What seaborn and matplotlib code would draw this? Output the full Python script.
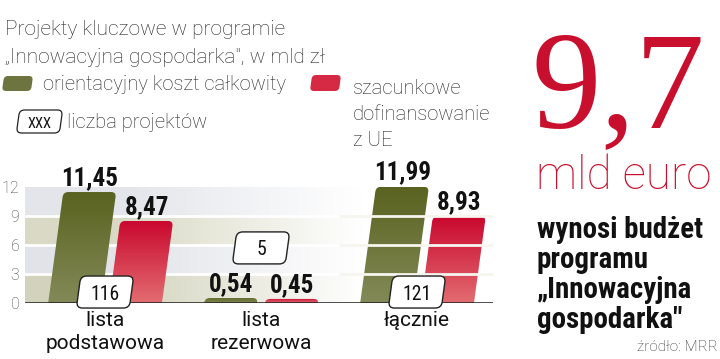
import numpy as np
import pandas as pd
import matplotlib
matplotlib.use("Agg")
import matplotlib.pyplot as plt
import seaborn as sns
from matplotlib.path import Path
from matplotlib.patches import PathPatch
from matplotlib import font_manager as fm
from matplotlib.transforms import Affine2D

# ---------------- data ----------------
categories = ["lista\npodstawowa", "lista\nrezerwowa", "łącznie"]
koszt_calkowity = [11.45, 0.54, 11.99]
dofinansowanie_ue = [8.47, 0.45, 8.93]
liczba_projektow = [116, 5, 121]
series_names = ["orientacyjny koszt całkowity", "szacunkowe dofinansowanie z UE"]
y_ticks = [0, 3, 6, 9, 12]
title_lines = ["Projekty kluczowe w programie", "„Innowacyjna gospodarka\", w mld zł"]
headline_value = "9,7"
headline_unit = "mld euro"
headline_text = "wynosi budżet\nprogramu\n„Innowacyjna\ngospodarka\""
source_text = "źródło: MRR"

# ---------------- styles ----------------
GREEN_TOP, GREEN_BOT = "#59621f", "#838a58"
RED_TOP, RED_BOT = "#c9072e", "#e26d71"
HEAD_RED = "#c8102e"
BANDS = ["#d3d3bd", "#e2e3e8", "#d9d9c5", "#e3e5ea"]  # bottom -> top

sns.set_theme(style="white")

_fonts = fm.fontManager.ttflist
_names = {f.name for f in _fonts}


def has(name, weight=None):
    for f in _fonts:
        if f.name != name:
            continue
        w = f.weight
        if isinstance(w, str):
            w = {"light": 300, "normal": 400, "regular": 400, "bold": 700}.get(w, 400)
        if weight is not None and abs(w - weight) > 50:
            continue
        return True
    return False


if has("Roboto", 300):
    LIGHT = dict(family="Roboto", weight="light")
elif has("Lato", 300):
    LIGHT = dict(family="Lato", weight="light")
elif has("Open Sans", 300):
    LIGHT = dict(family="Open Sans", weight="light")
else:
    LIGHT = dict(family="Roboto" if "Roboto" in _names else "DejaVu Sans")
REGULAR = dict(family="Roboto" if "Roboto" in _names else "DejaVu Sans")

if "Liberation Sans Narrow" in _names:
    NARROW = dict(family="Liberation Sans Narrow")
    NARROW_B = dict(family="Liberation Sans Narrow", weight="bold")
    NARROW_SCALE = 1.0
elif "Roboto Condensed" in _names:
    NARROW = dict(family="Roboto Condensed")
    NARROW_B = dict(family="Roboto Condensed", weight="bold")
    NARROW_SCALE = 0.95
else:
    NARROW = dict(family="DejaVu Sans", stretch="condensed")
    NARROW_B = dict(family="DejaVu Sans", stretch="condensed", weight="bold")
    NARROW_SCALE = 0.82
SERIF = dict(family="Liberation Serif" if "Liberation Serif" in _names else "DejaVu Serif")

W, H = 720, 359
fig = plt.figure(figsize=(W / 100, H / 100), dpi=100)
fig.patch.set_facecolor("white")

AX_L, AX_R, AX_B, AX_T = 25, 493, 303.3, 186.7
ax = fig.add_axes([AX_L / W, 1 - AX_B / H, (AX_R - AX_L) / W, (AX_B - AX_T) / H])
XL = (-0.513, 2.487)
YL = (0, 12)

df = pd.DataFrame({
    "kategoria": categories * 2,
    "seria": [series_names[0]] * 3 + [series_names[1]] * 3,
    "wartosc": koszt_calkowity + dofinansowanie_ue,
})
sns.barplot(data=df, x="kategoria", y="wartosc", hue="seria", order=categories,
            hue_order=series_names, palette=[GREEN_TOP, RED_TOP], width=0.78, gap=0.13,
            errorbar=None, legend=False, ax=ax, zorder=2)

ax.set_xlim(XL)
ax.set_ylim(YL)
xu = (AX_R - AX_L) / (XL[1] - XL[0])   # px per x unit
yu = (AX_B - AX_T) / (YL[1] - YL[0])   # px per y unit
SLANT_PX = 0.136
s = SLANT_PX * yu / xu                  # x-units per y-unit


def rpath(x0, y0, x1, y1, rx, ry, round_bottom=True, skew=0.0, yref=0.0):
    verts, codes = [], []
    if round_bottom:
        verts.append((x0, y0 + ry)); codes.append(Path.MOVETO)
    else:
        verts.append((x0, y0)); codes.append(Path.MOVETO)
    verts += [(x0, y1 - ry), (x0, y1), (x0 + rx, y1), (x1 - rx, y1), (x1, y1), (x1, y1 - ry)]
    codes += [Path.LINETO, Path.CURVE3, Path.CURVE3, Path.LINETO, Path.CURVE3, Path.CURVE3]
    if round_bottom:
        verts += [(x1, y0 + ry), (x1, y0), (x1 - rx, y0), (x0 + rx, y0), (x0, y0), (x0, y0 + ry)]
        codes += [Path.LINETO, Path.CURVE3, Path.CURVE3, Path.LINETO, Path.CURVE3, Path.CURVE3]
    else:
        verts += [(x1, y0)]
        codes += [Path.LINETO]
    verts.append(verts[0]); codes.append(Path.CLOSEPOLY)
    v = np.array(verts, float)
    v[:, 0] += skew * (v[:, 1] - yref)
    return Path(v, codes)


# background bands with horizontal fade to white
N = 400
xs = np.linspace(XL[0], XL[1], N)
alpha = np.clip((1.65 - xs) / (1.65 - 0.1), 0, 1)
bg = np.zeros((4, N, 3))
for i, c in enumerate(BANDS):
    rgb = np.array(matplotlib.colors.to_rgb(c))
    bg[i] = 1 - alpha[:, None] * (1 - rgb[None, :])
ax.imshow(bg, extent=(XL[0], XL[1], YL[0], YL[1]), origin="lower", aspect="auto",
          interpolation="nearest", zorder=0)
for yv in y_ticks[1:-1]:
    ax.axhline(yv, color="white", lw=2, zorder=1)

# bars: skewed, rounded top, vertical gradient
grad = np.linspace(0, 1, 256)
cols = [(GREEN_BOT, GREEN_TOP), (RED_BOT, RED_TOP)]
for ci, cont in enumerate(ax.containers):
    cb = np.array(matplotlib.colors.to_rgb(cols[ci][0]))
    ct = np.array(matplotlib.colors.to_rgb(cols[ci][1]))
    for bar in cont:
        x0, w, h = bar.get_x(), bar.get_width(), bar.get_height()
        bar.set_visible(False)
        ry = min(5 / yu, h * 0.9)
        rx = min(5 / xu, w / 3)
        p = rpath(x0, 0, x0 + w, h, rx, ry, round_bottom=False, skew=s, yref=0)
        patch = PathPatch(p, facecolor="none", edgecolor="none", zorder=2)
        ax.add_patch(patch)
        arr = (cb[None, :] * (1 - grad[:, None]) + ct[None, :] * grad[:, None])[:, None, :]
        im = ax.imshow(arr, extent=(x0, x0 + w + s * h, 0, h), origin="lower", aspect="auto",
                       interpolation="bilinear", zorder=2)
        im.set_clip_path(patch)
        ax.annotate(f"{h:.2f}".replace(".", ","), xy=(x0 + w / 2 + s * h, h), xytext=(0, 5.2),
                    textcoords="offset points", ha="center", va="baseline",
                    fontsize=19 * NARROW_SCALE, color="#111111",
                    annotation_clip=False, zorder=6, **NARROW_B)

# white lines over the last group
ax.hlines(y_ticks[1:-1], 1.5, XL[1], color="#f6f5ee", lw=2, zorder=4)
ax.axhline(0, color="#1a1a1a", lw=1.8, zorder=5)

# project count boxes
box_y = [1.16, 5.7, 1.16]
bw, bh = 53 / xu, 32 / yu
for i, n in enumerate(liczba_projektow):
    cx, cy = i, box_y[i]
    p = rpath(cx - bw / 2, cy - bh / 2, cx + bw / 2, cy + bh / 2, 6 / xu, 6 / yu,
              skew=s, yref=cy)
    ax.add_patch(PathPatch(p, facecolor="white", edgecolor="#222222", lw=1.0, zorder=7,
                           clip_on=False))
    ax.text(cx, cy, str(n), ha="center", va="center_baseline", fontsize=15 * NARROW_SCALE,
            color="#111111", zorder=8, **NARROW)

# axes styling
for sp in ax.spines.values():
    sp.set_visible(False)
ax.set_xlabel("")
ax.set_ylabel("")
ax.set_yticks(y_ticks)
ax.set_yticklabels([str(t) for t in y_ticks], fontsize=11.5, color="#444444", **LIGHT)
ax.set_xticks(range(len(categories)))
ax.set_xticklabels(categories, fontsize=15, color="#111111", linespacing=1.3, **REGULAR)
ax.tick_params(axis="both", length=0)
ax.tick_params(axis="y", pad=4)
ax.tick_params(axis="x", pad=5.5)

# ---------------- figure texts (pixel coords, top-left origin) ----------------
PX = Affine2D().scale(1 / W, -1 / H).translate(0, 1) + fig.transFigure


def ftext(x, y, txt, **kw):
    return fig.text(x / W, 1 - y / H, txt, **kw)


ftext(5, 35, title_lines[0], fontsize=15, color="#222222", va="baseline", **LIGHT)
ftext(5, 63, title_lines[1], fontsize=15, color="#222222", va="baseline", **LIGHT)

# legend
gp = rpath(3, 76, 32, 91, 4, 4, skew=-SLANT_PX, yref=83.5)
fig.add_artist(PathPatch(gp, transform=PX, facecolor="#6e7440", edgecolor="none"))
rp = rpath(311, 75, 340, 91, 4, 4, skew=-SLANT_PX, yref=83)
fig.add_artist(PathPatch(rp, transform=PX, facecolor="#d62a44", edgecolor="none"))
ftext(43, 90, series_names[0], fontsize=14.5, color="#222222", va="baseline", **LIGHT)
# multi-line text: 'baseline' anchors the last line
ftext(353, 146, "szacunkowe\ndofinansowanie\nz UE", fontsize=14.5, color="#222222",
      va="baseline", linespacing=1.45, **LIGHT)
xp = rpath(18, 110, 61, 133, 5, 5, skew=-SLANT_PX, yref=121.5)
fig.add_artist(PathPatch(xp, transform=PX, facecolor="white", edgecolor="#222222", lw=0.9))
ftext(39.5, 122, "XXX", fontsize=11 * NARROW_SCALE, color="#111111", ha="center",
      va="center_baseline", **NARROW)
ftext(67, 128, "liczba projektów", fontsize=14.5, color="#222222", va="baseline", **LIGHT)

# headline
ftext(531, 127, headline_value, fontsize=100, color=HEAD_RED, va="baseline", **SERIF)
ftext(536, 189, headline_unit, fontsize=33, color=HEAD_RED, va="baseline", **LIGHT)
ftext(537, 328, headline_text, fontsize=22 * NARROW_SCALE, color="#111111", va="baseline",
      linespacing=1.09, **NARROW_B)
ftext(718, 351, source_text, fontsize=11, color="#333333", ha="right", va="baseline", **LIGHT)

fig.savefig("out.png", dpi=100, facecolor="white")
